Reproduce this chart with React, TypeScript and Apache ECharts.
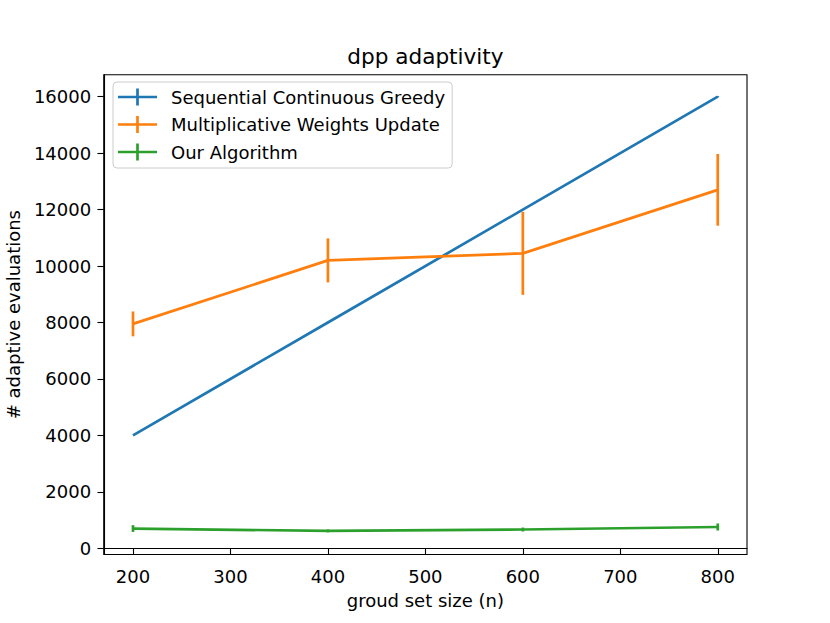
import React, { useEffect, useRef } from "react";
import * as echarts from "echarts";

const xValues = [200, 400, 600, 800];
const xTicks = [200, 300, 400, 500, 600, 700, 800];
const yTicks = [0, 2000, 4000, 6000, 8000, 10000, 12000, 14000, 16000];

const seqGreedy = [4000, 8000, 12000, 16000];
const seqGreedyErr = [0, 0, 0, 20];
const mwu = [7950, 10200, 10450, 12700];
const mwuErr = [440, 780, 1470, 1270];
const ours = [700, 615, 665, 755];
const oursErr = [120, 50, 70, 125];

const names = [
  "Sequential Continuous Greedy",
  "Multiplicative Weights Update",
  "Our Algorithm",
];
const colors = ["#1f77b4", "#ff7f0e", "#2ca02c"];

const FONT = "DejaVu Sans";
const LW = 2.7;

function lineSeries(name: string, values: number[], color: string) {
  return {
    type: "line",
    name,
    data: xValues.map((x, i) => [x, values[i]]),
    showSymbol: false,
    symbol: "none",
    lineStyle: { color, width: LW },
    itemStyle: { color },
    z: 3,
  };
}

function errSeries(name: string, values: number[], errs: number[], color: string) {
  return {
    type: "custom",
    name: name + " err",
    data: xValues.map((x, i) => [x, values[i], errs[i]]),
    encode: { x: 0, y: 1 },
    z: 3,
    renderItem: (_params: any, api: any) => {
      const x = api.value(0);
      const y = api.value(1);
      const e = api.value(2);
      const p1 = api.coord([x, y - e]);
      const p2 = api.coord([x, y + e]);
      return {
        type: "line",
        shape: { x1: p1[0], y1: p1[1], x2: p2[0], y2: p2[1] },
        style: { stroke: color, lineWidth: LW },
      };
    },
  };
}

export default function App() {
  const ref = useRef<HTMLDivElement>(null);
  useEffect(() => {
    document.body.style.margin = "0";
    if (!ref.current) return;
    const chart = echarts.init(ref.current, null, { renderer: "svg" });
    const crossIcon = "path://M0,7.15h39v2.7H0z M18.15,0h2.7v17h-2.7z";
    chart.setOption({
      animation: false,
      backgroundColor: "#ffffff",
      textStyle: { fontFamily: FONT },
      title: {
        text: "dpp adaptivity",
        left: 425.4,
        top: 45,
        textAlign: "center",
        padding: 0,
        textStyle: { fontFamily: FONT, fontSize: 21.6, fontWeight: "normal", color: "#000" },
      },
      grid: {
        left: 103.75,
        right: 83,
        top: 74.8,
        bottom: 68.5,
        show: true,
        borderColor: "#000",
        borderWidth: 1.1,
        containLabel: false,
        outerBoundsMode: "none",
      },
      legend: {
        orient: "vertical",
        left: 113,
        top: 82,
        data: names,
        icon: crossIcon,
        itemWidth: 39,
        itemHeight: 17,
        itemGap: 9.5,
        padding: [6, 7, 7, 5],
        backgroundColor: "rgba(255,255,255,0.8)",
        borderColor: "#cccccc",
        borderWidth: 1,
        borderRadius: 4,
        textStyle: { fontFamily: FONT, fontSize: 18, color: "#000", padding: [0, 0, 0, 9] },
      },
      xAxis: {
        type: "value",
        min: 170,
        max: 830,
        name: "groud set size (n)",
        nameLocation: "middle",
        nameGap: 37,
        nameTextStyle: { fontFamily: FONT, fontSize: 18, color: "#000" },
        axisLine: { show: true, lineStyle: { color: "#000", width: 1.1 } },
        axisTick: { show: true, length: 6.3, lineStyle: { color: "#000", width: 1.1 }, customValues: xTicks },
        axisLabel: {
          fontFamily: FONT, fontSize: 18, color: "#000", margin: 12.6, customValues: xTicks,
          formatter: (v: number) => String(v),
        },
        splitLine: { show: false },
      },
      yAxis: {
        type: "value",
        min: -220,
        max: 16776,
        name: "# adaptive evaluations",
        nameLocation: "middle",
        nameGap: 73,
        nameTextStyle: { fontFamily: FONT, fontSize: 18, color: "#000" },
        axisLine: { show: true, lineStyle: { color: "#000", width: 1.1 } },
        axisTick: { show: true, length: 6.3, lineStyle: { color: "#000", width: 1.1 }, customValues: yTicks },
        axisLabel: {
          fontFamily: FONT, fontSize: 18, color: "#000", margin: 12.6, customValues: yTicks,
          formatter: (v: number) => String(v),
        },
        splitLine: { show: false },
      },
      series: [
        lineSeries(names[0], seqGreedy, colors[0]),
        errSeries(names[0], seqGreedy, seqGreedyErr, colors[0]),
        lineSeries(names[1], mwu, colors[1]),
        errSeries(names[1], mwu, mwuErr, colors[1]),
        lineSeries(names[2], ours, colors[2]),
        errSeries(names[2], ours, oursErr, colors[2]),
      ],
    });
    return () => chart.dispose();
  }, []);
  return <div ref={ref} style={{ width: 830, height: 623 }} />;
}
